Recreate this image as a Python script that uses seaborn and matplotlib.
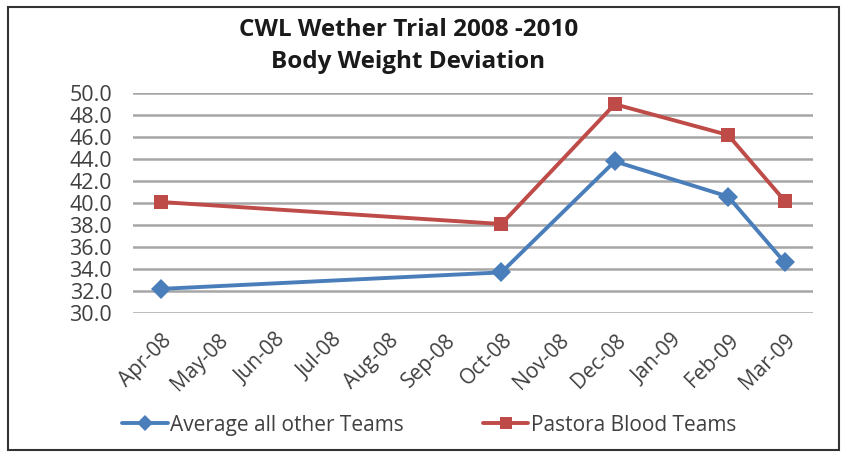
import matplotlib.pyplot as plt
import seaborn as sns
import pandas as pd
from matplotlib.patches import Rectangle

months = ['Apr-08', 'May-08', 'Jun-08', 'Jul-08', 'Aug-08', 'Sep-08',
          'Oct-08', 'Nov-08', 'Dec-08', 'Jan-09', 'Feb-09', 'Mar-09']
measured = ['Apr-08', 'Oct-08', 'Dec-08', 'Feb-09', 'Mar-09']
avg_other = [32.2, 33.7, 43.8, 40.6, 34.6]
pastora = [40.1, 38.1, 49.0, 46.2, 40.2]

df = pd.DataFrame({
    'month': measured * 2,
    'value': avg_other + pastora,
    'series': ['Average all other Teams'] * 5 + ['Pastora Blood Teams'] * 5,
})
df['x'] = df['month'].map({m: i for i, m in enumerate(months)})

sns.set_style('white')
plt.rcParams['font.family'] = ['Open Sans', 'DejaVu Sans']

fig = plt.figure(figsize=(8.47, 4.57), dpi=100)
ax = fig.add_axes([0.157, 0.315, 0.803, 0.481])

palette = {'Average all other Teams': '#4a7ebb', 'Pastora Blood Teams': '#be4b48'}
sns.lineplot(data=df, x='x', y='value', hue='series', style='series',
             markers={'Average all other Teams': 'D', 'Pastora Blood Teams': 's'},
             dashes=False, palette=palette, linewidth=2.8, markersize=10,
             markeredgewidth=0, ax=ax)

ax.set_xlim(-0.5, 11.5)
ax.set_ylim(30, 50)
ax.set_yticks(range(30, 51, 2))
ax.set_yticklabels([f'{v:.1f}' for v in range(30, 51, 2)], fontsize=15.5, color='#404040')
ax.set_xticks(range(12))
ax.set_xticklabels(months, rotation=45, ha='right', rotation_mode='anchor',
                   fontsize=15, color='#404040')
ax.tick_params(axis='y', length=0, pad=15)
ax.tick_params(axis='x', length=0, pad=12)
ax.grid(axis='y', color='#a6a6a6', linewidth=1.8)
ax.set_axisbelow(True)
for s in ax.spines.values():
    s.set_visible(False)
ax.set_xlabel('')
ax.set_ylabel('')

leg = ax.legend(loc='center', bbox_to_anchor=(0.435, -0.51), ncol=2, frameon=False,
                fontsize=15, handlelength=2.2, handletextpad=0.1, columnspacing=3.8,
                labelcolor='#404040', markerscale=0.8)

fig.text(0.482, 0.935, 'CWL Wether Trial 2008 -2010', ha='center', va='center',
         fontsize=17.5, fontweight='bold', color='#1a1a1a')
fig.text(0.482, 0.865, 'Body Weight Deviation', ha='center', va='center',
         fontsize=17.5, fontweight='bold', color='#1a1a1a')

fig.patches.append(Rectangle((0.009, 0.015), 0.982, 0.97, transform=fig.transFigure,
                             fill=False, edgecolor='#333333', linewidth=1.5))

fig.savefig('out.png', dpi=100)
